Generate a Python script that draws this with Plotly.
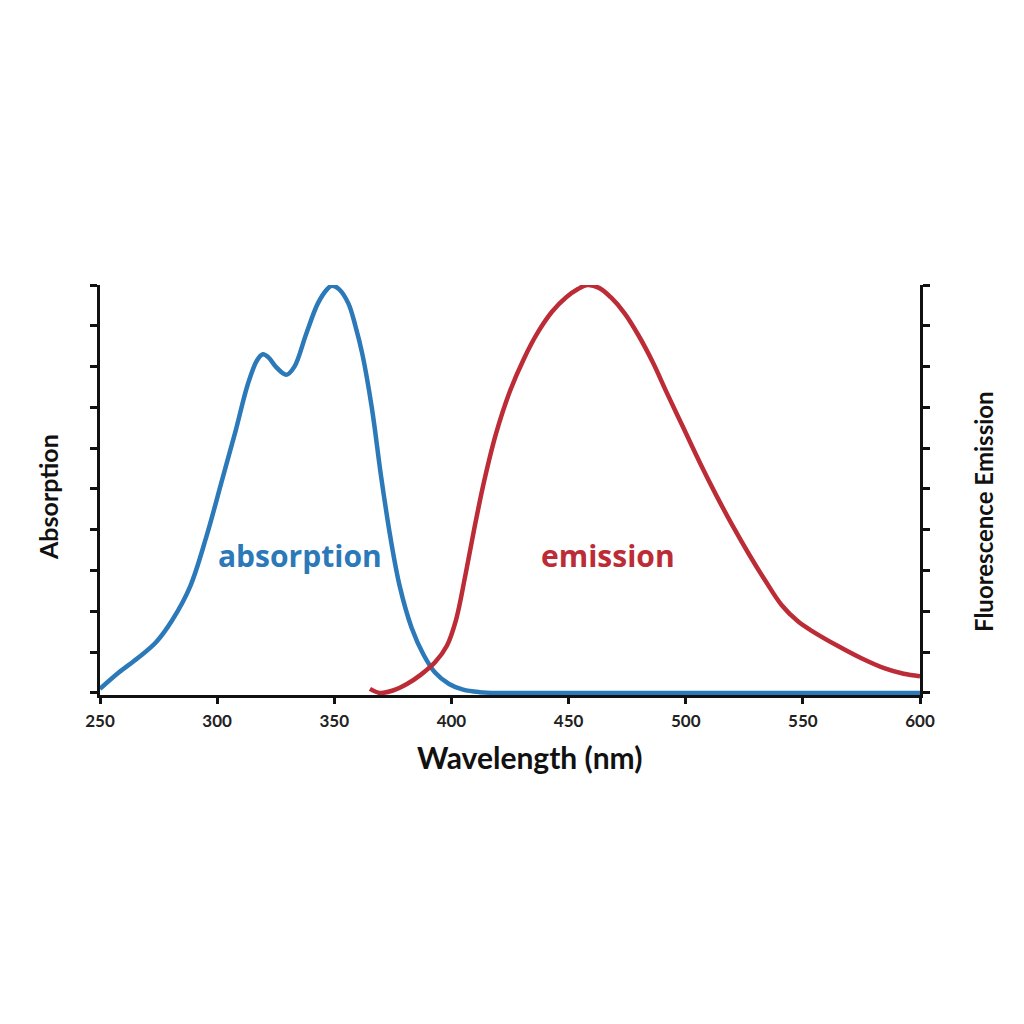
import plotly.graph_objects as go

# Absorption spectrum (normalized)
abs_wl = [250, 258, 266, 274, 281, 288.4, 295.5, 302, 308, 313, 317, 319.5, 322, 325, 329.5,
          333, 338, 343, 347, 349, 352, 356, 359, 362, 366, 370, 374, 378, 383, 388, 393, 399, 405,
          412, 420, 450, 500, 550, 600]
abs_val = [0.01, 0.05, 0.085, 0.125, 0.18, 0.26, 0.385, 0.52, 0.645, 0.755, 0.815, 0.83, 0.822,
           0.80, 0.78, 0.80, 0.88, 0.955, 0.99, 0.998, 0.99, 0.955, 0.90, 0.83, 0.70, 0.53, 0.38, 0.26,
           0.16, 0.095, 0.05, 0.022, 0.008, 0.002, 0.0, 0.0, 0.0, 0.0, 0.0]

# Fluorescence emission spectrum (normalized)
em_wl = [365.2, 369.5, 375, 381, 387, 393, 398, 402, 406, 410, 414, 419, 425, 431, 437, 443, 449, 454,
         458, 463, 468, 474, 480, 486, 492, 499, 506, 513, 520, 527, 534, 541, 548, 555, 565, 575, 585,
         593, 600]
em_val = [0.01, 0.0, 0.006, 0.022, 0.045, 0.075, 0.115, 0.18, 0.29, 0.41, 0.52, 0.635, 0.74, 0.82,
          0.885, 0.935, 0.97, 0.99, 1.0, 0.993, 0.97, 0.93, 0.875, 0.81, 0.735, 0.65, 0.565, 0.485,
          0.41, 0.34, 0.275, 0.215, 0.175, 0.148, 0.115, 0.085, 0.06, 0.047, 0.041]

x_ticks = [250, 300, 350, 400, 450, 500, 550, 600]
y_ticks = [0, 0.1, 0.2, 0.3, 0.4, 0.5, 0.6, 0.7, 0.8, 0.9, 1.0]

BLUE = "#2B79B8"
RED = "#BC2C36"

fig = go.Figure()
fig.add_trace(go.Scatter(x=abs_wl, y=abs_val, mode="lines", line=dict(color=BLUE, width=4.5, shape="spline", smoothing=1.0),
                         name="absorption", showlegend=False))
fig.add_trace(go.Scatter(x=em_wl, y=em_val, mode="lines", line=dict(color=RED, width=4.5, shape="spline", smoothing=1.0),
                         name="emission", showlegend=False, yaxis="y2"))

axis_font = dict(family="Lato, Open Sans, sans-serif", size=17, color="#222", weight="bold")

fig.update_layout(
    width=1024, height=1024,
    margin=dict(l=100, r=104, t=285, b=329),
    paper_bgcolor="white", plot_bgcolor="white",
    xaxis=dict(range=[250, 600], tickvals=x_ticks, ticktext=[str(v) for v in x_ticks],
               showline=True, linecolor="#111", linewidth=3, ticks="outside", ticklen=6, tickwidth=2.5,
               tickcolor="#111", showgrid=False, zeroline=False, tickfont=axis_font, layer="below traces",
               ticklabelstandoff=3),
    yaxis=dict(range=[-0.005, 1.0], tickvals=y_ticks, showticklabels=False, showline=True, linecolor="#111",
               linewidth=3, ticks="outside", ticklen=7, tickwidth=2.5, tickcolor="#111", showgrid=False,
               zeroline=False, layer="below traces"),
    yaxis2=dict(range=[-0.005, 1.0], tickvals=y_ticks, showticklabels=False, showline=True, linecolor="#111",
                linewidth=3, ticks="outside", ticklen=7, tickwidth=2.5, tickcolor="#111", showgrid=False,
                zeroline=False, overlaying="y", side="right", layer="below traces"),
    annotations=[
        dict(x=335.4, y=0.337, xref="x", yref="y", text="<b>absorption</b>", showarrow=False,
             xanchor="center", yanchor="middle",
             font=dict(family="Open Sans, sans-serif", size=30, color=BLUE)),
        dict(x=466.8, y=0.337, xref="x", yref="y", text="<b>emission</b>", showarrow=False,
             xanchor="center", yanchor="middle",
             font=dict(family="Open Sans, sans-serif", size=30, color=RED)),
        dict(x=529, y=757, text="<b>Wavelength (nm)</b>", showarrow=False,
             font=dict(family="Lato, sans-serif", size=30, color="#111")),
        dict(x=48, y=497, text="<b>Absorption</b>", showarrow=False, textangle=-90,
             font=dict(family="Lato, sans-serif", size=25, color="#111")),
        dict(x=983, y=512, text="<b>Fluorescence Emission</b>", showarrow=False, textangle=-90,
             font=dict(family="Lato, sans-serif", size=24, color="#111")),
    ],
)

# convert pixel-positioned labels to paper coordinates
plot_l, plot_r, plot_t, plot_b = 100, 920, 285, 695
for a in fig.layout.annotations[2:]:
    px, py = a.x, a.y
    a.xref = "paper"
    a.yref = "paper"
    a.xanchor = "center"
    a.yanchor = "middle"
    a.x = (px - plot_l) / (plot_r - plot_l)
    a.y = (plot_b - py) / (plot_b - plot_t)

fig.write_html("out.html")
